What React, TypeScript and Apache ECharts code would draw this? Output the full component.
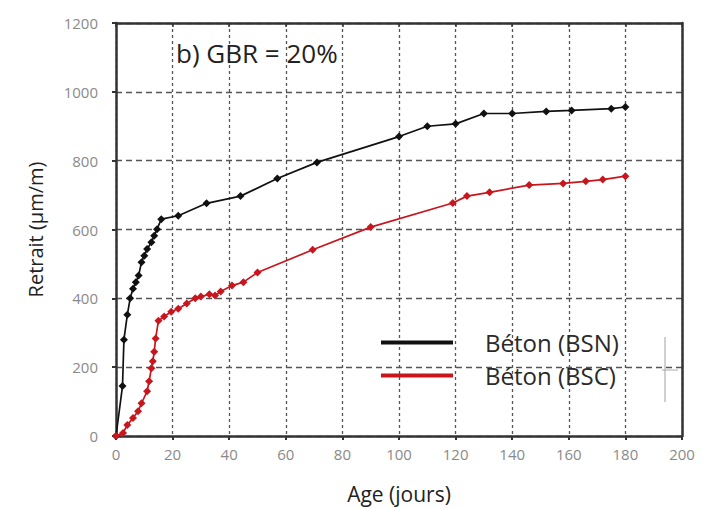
import React, { useEffect, useRef } from "react";
import * as echarts from "echarts";

// Age (days) and shrinkage (µm/m) for the two concretes
const bsnDays = [0, 2.3, 2.8, 4, 5, 6, 7, 8, 9, 10, 11, 12.5, 13.5, 14.5, 16, 22, 32, 44, 57, 71, 100, 110, 120, 130, 140, 152, 161, 175, 180];
const bsnValues = [0, 145, 280, 352, 400, 428, 447, 466, 505, 524, 543, 563, 582, 601, 630, 640, 676, 697, 748, 795, 870, 900, 907, 937, 937, 943, 946, 951, 956];

const bscDays = [0, 2.5, 4, 6, 7.8, 9, 11, 11.7, 12.5, 13, 13.5, 14, 15, 17, 19.5, 22, 25, 28, 30, 33, 35, 37, 41, 45, 50, 69.5, 90, 119, 124, 132, 146, 158, 166, 172, 180];
const bscValues = [0, 9, 32, 52, 72, 95, 130, 159, 197, 217, 245, 283, 335, 347, 361, 370, 385, 400, 405, 412, 408, 420, 437, 447, 475, 541, 607, 677, 697, 708, 729, 734, 740, 745, 755];

const seriesNames = ["Béton (BSN)", "Béton (BSC)"];
const xTicks = { min: 0, max: 200, interval: 20 };
const yTicks = { min: 0, max: 1200, interval: 200 };

const FONT = "'Open Sans', 'Noto Sans', sans-serif";
const AXIS_COLOR = "#333";
const GRID_COLOR = "#555";

function pairs(xs: number[], ys: number[]) {
  return xs.map((x, i) => [x, ys[i]]);
}

export default function App() {
  const ref = useRef<HTMLDivElement>(null);

  useEffect(() => {
    document.body.style.margin = "0";
    if (!ref.current) return;
    const chart = echarts.init(ref.current, undefined, { renderer: "svg" });

    const labelStyle = {
      color: "#8a8a8a",
      fontSize: 15,
      fontFamily: FONT,
      formatter: (v: number) => String(v),
    };

    chart.setOption({
      animation: false,
      backgroundColor: "#fff",
      grid: { left: 116, right: 20, top: 23, bottom: 71 },
      title: {
        text: "b) GBR = 20%",
        left: 171,
        top: 35,
        textStyle: { fontSize: 26, fontWeight: "normal", color: "#222", fontFamily: FONT },
      },
      legend: {
        orient: "vertical",
        left: 376,
        top: 324,
        itemWidth: 72,
        itemHeight: 4,
        itemGap: 6,
        icon: "rect",
        data: seriesNames,
        textStyle: {
          fontSize: 24,
          color: "#2a2a2a",
          fontFamily: FONT,
          padding: [0, 0, 0, 27],
          lineHeight: 27,
        },
      },
      xAxis: [
        {
          type: "value",
          min: xTicks.min,
          max: xTicks.max,
          interval: xTicks.interval,
          name: "Age (jours)",
          nameLocation: "middle",
          nameGap: 47,
          nameTextStyle: { fontSize: 21, color: "#222", fontFamily: FONT },
          axisLine: { show: true, onZero: false, lineStyle: { color: AXIS_COLOR, width: 2.5 } },
          axisTick: { show: true, length: 4, lineStyle: { color: AXIS_COLOR, width: 2 } },
          axisLabel: { ...labelStyle, margin: 10 },
          splitLine: { show: true, lineStyle: { color: GRID_COLOR, width: 1.3, type: [3, 3] } },
        },
        {
          type: "value",
          position: "top",
          min: xTicks.min,
          max: xTicks.max,
          interval: xTicks.interval,
          axisLine: { show: true, onZero: false, lineStyle: { color: AXIS_COLOR, width: 2.5 } },
          axisTick: { show: true, inside: true, length: 4, lineStyle: { color: AXIS_COLOR, width: 1.5 } },
          axisLabel: { show: false },
          splitLine: { show: false },
        },
      ],
      yAxis: [
        {
          type: "value",
          min: yTicks.min,
          max: yTicks.max,
          interval: yTicks.interval,
          name: "Retrait (µm/m)",
          nameLocation: "middle",
          nameGap: 71,
          nameTextStyle: { fontSize: 20, color: "#222", fontFamily: FONT },
          axisLine: { show: true, onZero: false, lineStyle: { color: AXIS_COLOR, width: 2.5 } },
          axisTick: { show: true, length: 4, lineStyle: { color: AXIS_COLOR, width: 2 } },
          axisLabel: { ...labelStyle, margin: 18 },
          splitLine: { show: true, lineStyle: { color: GRID_COLOR, width: 1.3, type: [6, 4] } },
        },
        {
          type: "value",
          position: "right",
          min: yTicks.min,
          max: yTicks.max,
          interval: yTicks.interval,
          axisLine: { show: true, onZero: false, lineStyle: { color: AXIS_COLOR, width: 2.5 } },
          axisTick: { show: false },
          axisLabel: { show: false },
          splitLine: { show: false },
        },
      ],
      graphic: [
        {
          type: "line",
          shape: { x1: 665, y1: 337, x2: 665, y2: 402 },
          style: { stroke: "#d0d0d0", lineWidth: 2 },
        },
        {
          type: "line",
          shape: { x1: 662, y1: 370, x2: 678, y2: 370 },
          style: { stroke: "#aaa", lineWidth: 1 },
        },
      ],
      series: [
        {
          name: seriesNames[0],
          type: "line",
          data: pairs(bsnDays, bsnValues),
          symbol: "diamond",
          symbolSize: 8,
          color: "#111",
          lineStyle: { color: "#111", width: 1.7 },
          itemStyle: { color: "#111" },
          z: 3,
        },
        {
          name: seriesNames[1],
          type: "line",
          data: pairs(bscDays, bscValues),
          symbol: "diamond",
          symbolSize: 8,
          color: "#c8161e",
          lineStyle: { color: "#c8161e", width: 1.7 },
          itemStyle: { color: "#c8161e" },
          z: 4,
        },
      ],
    });

    return () => chart.dispose();
  }, []);

  return <div ref={ref} style={{ width: 702, height: 509 }} />;
}
